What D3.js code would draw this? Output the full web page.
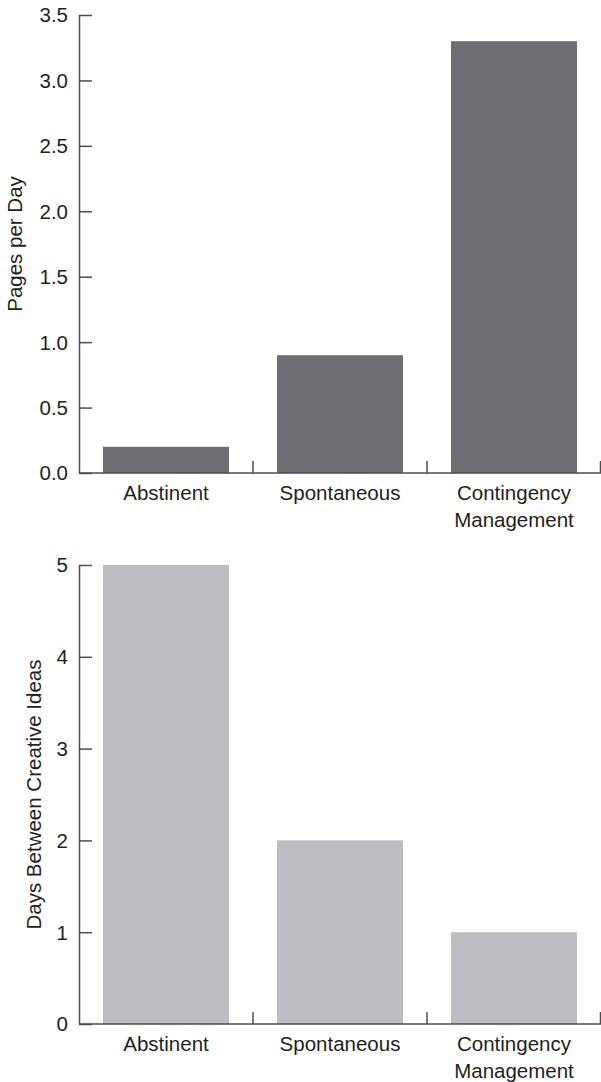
<!DOCTYPE html>
<html>
<head>
<meta charset="utf-8">
<script src="https://cdn.jsdelivr.net/npm/d3@7"></script>
<style>
  html, body { margin: 0; padding: 0; background: #fff; }
  svg { display: block; }
  text { font-family: "Liberation Sans", Arial, Helvetica, sans-serif; fill: #231f20; }
</style>
</head>
<body>
<svg id="chart" width="601" height="1082"></svg>
<script>
const categories = ["Abstinent", "Spontaneous", "Contingency Management"];
const categoryLines = [["Abstinent"], ["Spontaneous"], ["Contingency", "Management"]];
const pagesPerDay = [0.2, 0.9, 3.3];
const daysBetweenIdeas = [5, 2, 1];
const topTicks = [0, 0.5, 1.0, 1.5, 2.0, 2.5, 3.0, 3.5];
const bottomTicks = [0, 1, 2, 3, 4, 5];

const svg = d3.select("#chart");
const axisColor = "#4d4d4f";

function drawPanel(opts) {
  const { top, bottom, left, right, values, domain, ticks, fmt, color, title, titleX } = opts;
  const g = svg.append("g");
  const x = d3.scaleBand().domain(categories).range([left, right]).paddingInner(0.276).paddingOuter(0.138);
  const xb = d3.scaleBand().domain(categories).range([left, right]).padding(0);
  const y = d3.scaleLinear().domain(domain).range([bottom, top]);

  // bars
  g.selectAll("rect.bar").data(values).enter().append("rect")
    .attr("x", (d, i) => x(categories[i]))
    .attr("width", x.bandwidth())
    .attr("y", d => y(d))
    .attr("height", d => y(0) - y(d))
    .attr("fill", color);

  // y axis
  const yAxis = d3.axisRight(y).tickValues(ticks).tickSize(13).tickFormat(() => "");
  const ya = g.append("g").attr("transform", `translate(${left},0)`).call(yAxis);
  ya.select(".domain").attr("stroke", axisColor).attr("stroke-width", 1.5).attr("d", `M0.5,${y(domain[1])}V${y(0)}`);
  ya.selectAll(".tick line").attr("stroke", axisColor).attr("stroke-width", 1.5);

  // y tick labels
  g.selectAll("text.ytl").data(ticks).enter().append("text")
    .attr("x", left - 11)
    .attr("y", d => y(d))
    .attr("dy", "0.36em")
    .attr("text-anchor", "end")
    .attr("font-size", 20.5)
    .text(fmt);

  // x axis baseline
  g.append("line")
    .attr("x1", left).attr("x2", right)
    .attr("y1", y(0)).attr("y2", y(0))
    .attr("stroke", axisColor).attr("stroke-width", 1.5);

  // x ticks at band boundaries (upward)
  const bounds = categories.slice(1).map(c => xb(c)).concat([right - 0.5]);
  g.selectAll("line.xt").data(bounds).enter().append("line")
    .attr("x1", d => d).attr("x2", d => d)
    .attr("y1", y(0)).attr("y2", y(0) - 12)
    .attr("stroke", axisColor).attr("stroke-width", 1.5);

  // category labels
  categoryLines.forEach((lines, i) => {
    const cx = xb(categories[i]) + xb.bandwidth() / 2;
    lines.forEach((ln, j) => {
      g.append("text")
        .attr("x", cx)
        .attr("y", y(0) + 27 + j * 27)
        .attr("text-anchor", "middle")
        .attr("font-size", 20.5)
        .text(ln);
    });
  });

  // y title
  const cy = (y(domain[1]) + y(0)) / 2;
  g.append("text")
    .attr("transform", `translate(${titleX},${cy}) rotate(-90)`)
    .attr("text-anchor", "middle")
    .attr("font-size", 20.5)
    .text(title);
}

drawPanel({
  top: 15, bottom: 473, left: 79, right: 601,
  values: pagesPerDay, domain: [0, 3.5], ticks: topTicks,
  fmt: d3.format(".1f"), color: "#6d6e71",
  title: "Pages per Day", titleX: 22
});

drawPanel({
  top: 565, bottom: 1024, left: 79, right: 601,
  values: daysBetweenIdeas, domain: [0, 5], ticks: bottomTicks,
  fmt: d3.format("d"), color: "#bcbdc0",
  title: "Days Between Creative Ideas", titleX: 41
});
</script>
</body>
</html>
